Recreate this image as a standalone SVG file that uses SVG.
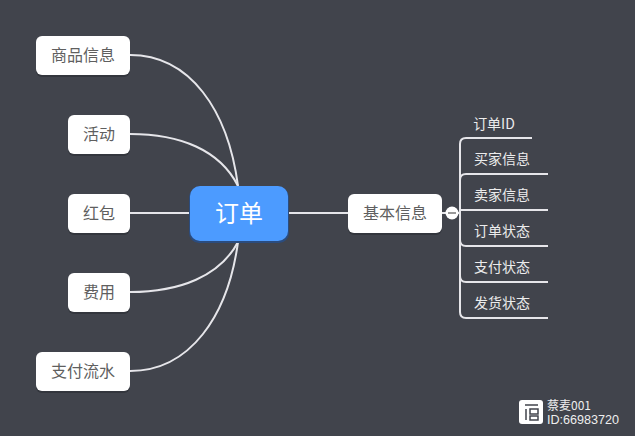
<svg xmlns="http://www.w3.org/2000/svg" width="635" height="436" viewBox="0 0 635 436">
<style>
text{font-family:"Noto Sans CJK SC","Noto Sans",sans-serif;text-anchor:middle}
.n{fill:#fff}
.s{fill:#33363d}
.t{font-size:16px;fill:#5f5f5f}
.l{font-size:14px;fill:#ececec}
.c{fill:none;stroke:#e6e6ea;stroke-width:2}
.w{font-size:12px;fill:#eee;text-anchor:start}
</style>
<rect width="635" height="436" fill="#41444c"/>
<g id="connectors" class="c">
<path d="M130 55C190 55 228 110 238 186"/>
<path d="M130 134C180 134 220 150 238 186"/>
<path d="M130 213H190"/>
<path d="M130 292C180 292 220 276 238 242"/>
<path d="M130 371C190 371 228 316 238 242"/>
<path d="M288 213H348"/>
<path d="M442 213H460"/>
<path d="M532 138H466Q460 138 460 144V312Q460 318 466 318H548"/>
<path d="M548 174H466Q460 174 460 180V240Q460 246 466 246H548"/>
<path d="M460 210H548"/>
<path d="M460 276Q460 282 466 282H548"/>
</g>
<g id="node-order"><rect x="189" y="187" width="100" height="56" rx="10" fill="#2b4c7e"/><rect x="190" y="186" width="98" height="55" rx="10" fill="#4c9bff"/><text x="239" y="222" font-size="24" fill="#fff">订单</text></g>
<g id="node-goods"><rect class="s" x="36" y="38" width="94" height="39" rx="6"/><rect class="n" x="36" y="36" width="94" height="39" rx="6"/><text class="t" x="83" y="61">商品信息</text></g>
<g id="node-activity"><rect class="s" x="68" y="117" width="62" height="39" rx="6"/><rect class="n" x="68" y="115" width="62" height="39" rx="6"/><text class="t" x="99" y="140">活动</text></g>
<g id="node-redpack"><rect class="s" x="68" y="196" width="62" height="39" rx="6"/><rect class="n" x="68" y="194" width="62" height="39" rx="6"/><text class="t" x="99" y="219">红包</text></g>
<g id="node-fee"><rect class="s" x="68" y="275" width="62" height="39" rx="6"/><rect class="n" x="68" y="273" width="62" height="39" rx="6"/><text class="t" x="99" y="298">费用</text></g>
<g id="node-payflow"><rect class="s" x="36" y="354" width="94" height="39" rx="6"/><rect class="n" x="36" y="352" width="94" height="39" rx="6"/><text class="t" x="83" y="377">支付流水</text></g>
<g id="node-basic"><rect class="s" x="348" y="196" width="94" height="39" rx="6"/><rect class="n" x="348" y="194" width="94" height="39" rx="6"/><text class="t" x="395" y="219">基本信息</text></g>
<g id="node-collapse"><circle cx="452" cy="213" r="6.5" fill="#fff"/><rect x="448" y="212" width="8" height="2" fill="#999"/></g>
<g id="node-orderid"><text class="l" x="494" y="129">订单ID</text></g>
<g id="node-buyer"><text class="l" x="502" y="164">买家信息</text></g>
<g id="node-seller"><text class="l" x="502" y="200">卖家信息</text></g>
<g id="node-orderstatus"><text class="l" x="502" y="236">订单状态</text></g>
<g id="node-paystatus"><text class="l" x="502" y="272">支付状态</text></g>
<g id="node-shipstatus"><text class="l" x="502" y="308">发货状态</text></g>
<g id="watermark"><rect x="519" y="400" width="24" height="24" rx="3" fill="#fff"/><path d="M525 405H538M526 409V420M530 409H538V414H530ZM530 416H538V420H530Z" fill="none" stroke="#41444c" stroke-width="1.5"/><text class="w" x="547" y="410">蔡麦001</text><text class="w" x="547" y="424" style="font-size:12.6px;font-family:'Liberation Sans',sans-serif">ID:66983720</text></g>
</svg>
